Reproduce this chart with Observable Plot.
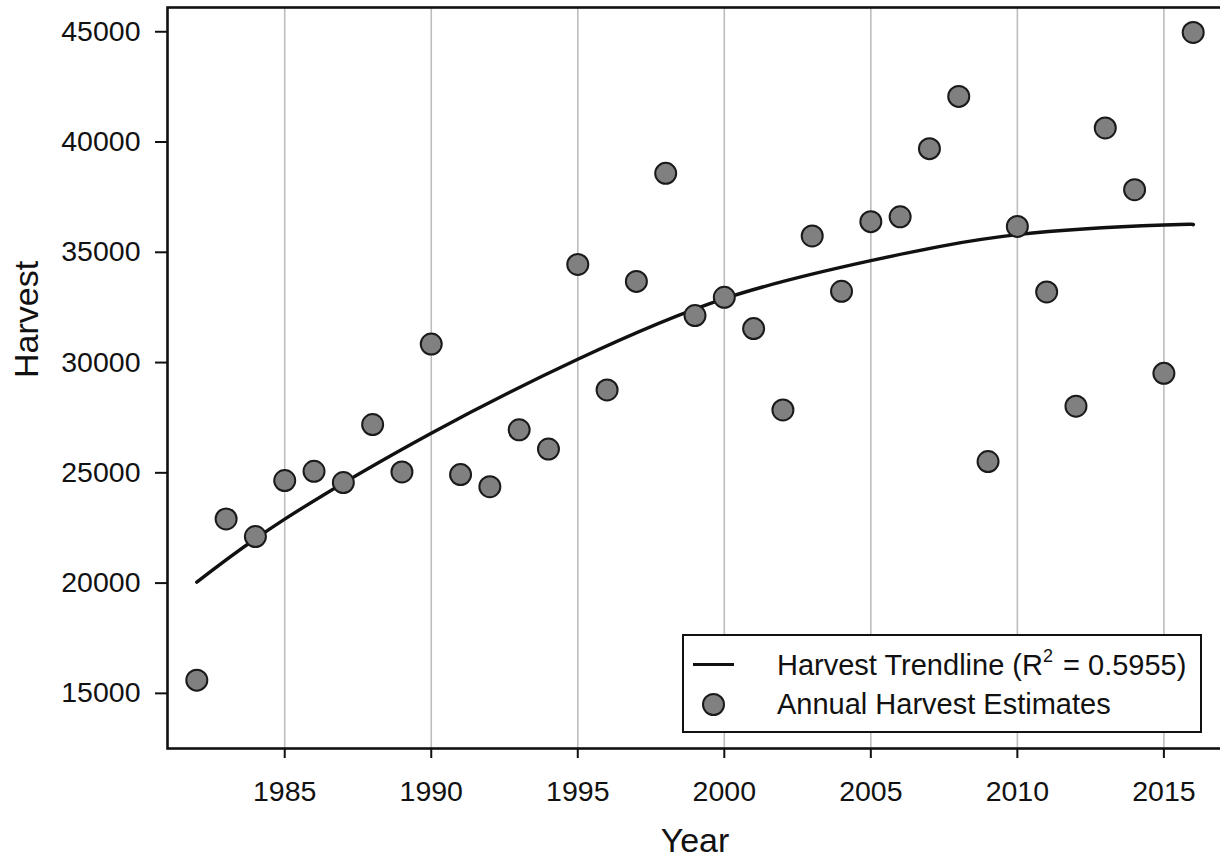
<!DOCTYPE html>
<html>
<head>
<meta charset="utf-8">
<script src="https://cdn.jsdelivr.net/npm/d3@7"></script>
<script src="https://cdn.jsdelivr.net/npm/@observablehq/plot@0.6"></script>
<style>
  html, body { margin: 0; padding: 0; background: #fff; overflow: hidden; }
  #wrap { position: relative; width: 1220px; height: 860px; }
  #wrap svg { display: block; }
  #legend {
    position: absolute; left: 682px; top: 634px; width: 516px; height: 95px;
    border: 2px solid #111; background: #fff;
    font-family: "Liberation Sans", Arial, sans-serif; font-size: 29px; color: #111;
  }
  #legend .row { position: absolute; left: 0; right: 0; height: 34px; line-height: 34px; }
  #legend .label { position: absolute; left: 93px; top: 0; white-space: nowrap; }
  #legend .swline { position: absolute; left: 9px; top: 15px; width: 41px; height: 3.2px; background: #111; }
  #legend .swdot { position: absolute; left: 18px; top: 6px; width: 19px; height: 19px; border-radius: 50%;
    background: #808080; border: 2px solid #1a1a1a; }
  #legend sup { font-size: 18px; line-height: 0; position: relative; top: -2px; vertical-align: super; margin-right: 2px; }
</style>
</head>
<body>
<div id="wrap">
  <div id="legend">
    <div class="row" style="top:12px"><div class="swline"></div><div class="label">Harvest Trendline (R<sup>2</sup> = 0.5955)</div></div>
    <div class="row" style="top:51px"><div class="swdot"></div><div class="label">Annual Harvest Estimates</div></div>
  </div>
</div>
<script>
// Annual harvest estimates
const years = [1982,1983,1984,1985,1986,1987,1988,1989,1990,1991,1992,1993,1994,1995,1996,1997,1998,1999,
               2000,2001,2002,2003,2004,2005,2006,2007,2008,2009,2010,2011,2012,2013,2014,2015,2016];
const harvest = [15600,22910,22110,24650,25070,24560,27190,25040,30840,24920,24370,26950,26080,34450,28760,33680,38580,32130,
                 32960,31540,27850,35740,33230,36390,36610,39700,42070,25510,36170,33200,28020,40640,37840,29510,44970];

// Trendline
const trendYears = [1982,1985,1990,1995,2000,2005,2010,2015,2016];
const trendHarvest = [20040,22900,26800,30150,32900,34620,35800,36240,36250];

// Tick values
const xTicks = [1985,1990,1995,2000,2005,2010,2015];
const yTicks = [15000,20000,25000,30000,35000,40000,45000];

const points = years.map((year, i) => ({year, harvest: harvest[i]}));
const trend = trendYears.map((year, i) => ({year, harvest: trendHarvest[i]}));

const chart = Plot.plot({
  width: 1220,
  height: 860,
  marginLeft: 167,
  marginRight: -2,
  marginTop: 7,
  marginBottom: 112,
  style: {fontFamily: "Liberation Sans, Arial, sans-serif", color: "#111", background: "white", overflow: "visible"},
  x: {domain: [1981, 2017]},
  y: {domain: [12500, 46100]},
  marks: [
    Plot.gridX(xTicks, {stroke: "#bdbdbd", strokeOpacity: 1, strokeWidth: 1.6}),
    Plot.axisX(xTicks, {tickFormat: "d", tickSize: 10, tickPadding: 22, strokeWidth: 2, fontSize: 28.5, label: null}),
    Plot.axisY(yTicks, {tickFormat: "d", tickSize: 12, tickPadding: 15, strokeWidth: 2, fontSize: 28.5, label: null}),
    Plot.text(["Year"], {frameAnchor: "bottom", dy: 93, fontSize: 34, lineAnchor: "middle", fill: "#111"}),
    Plot.text(["Harvest"], {frameAnchor: "left", dx: -140, rotate: -90, fontSize: 34, lineAnchor: "middle", fill: "#111"}),
    Plot.line(trend, {x: "year", y: "harvest", stroke: "#111", strokeWidth: 3.4, curve: "natural"}),
    Plot.dot(points, {x: "year", y: "harvest", r: 10.5, fill: "#808080", stroke: "#1a1a1a", strokeWidth: 2}),
    Plot.frame({stroke: "#111", strokeWidth: 2.6})
  ]
});
document.getElementById("wrap").prepend(chart);
</script>
</body>
</html>
